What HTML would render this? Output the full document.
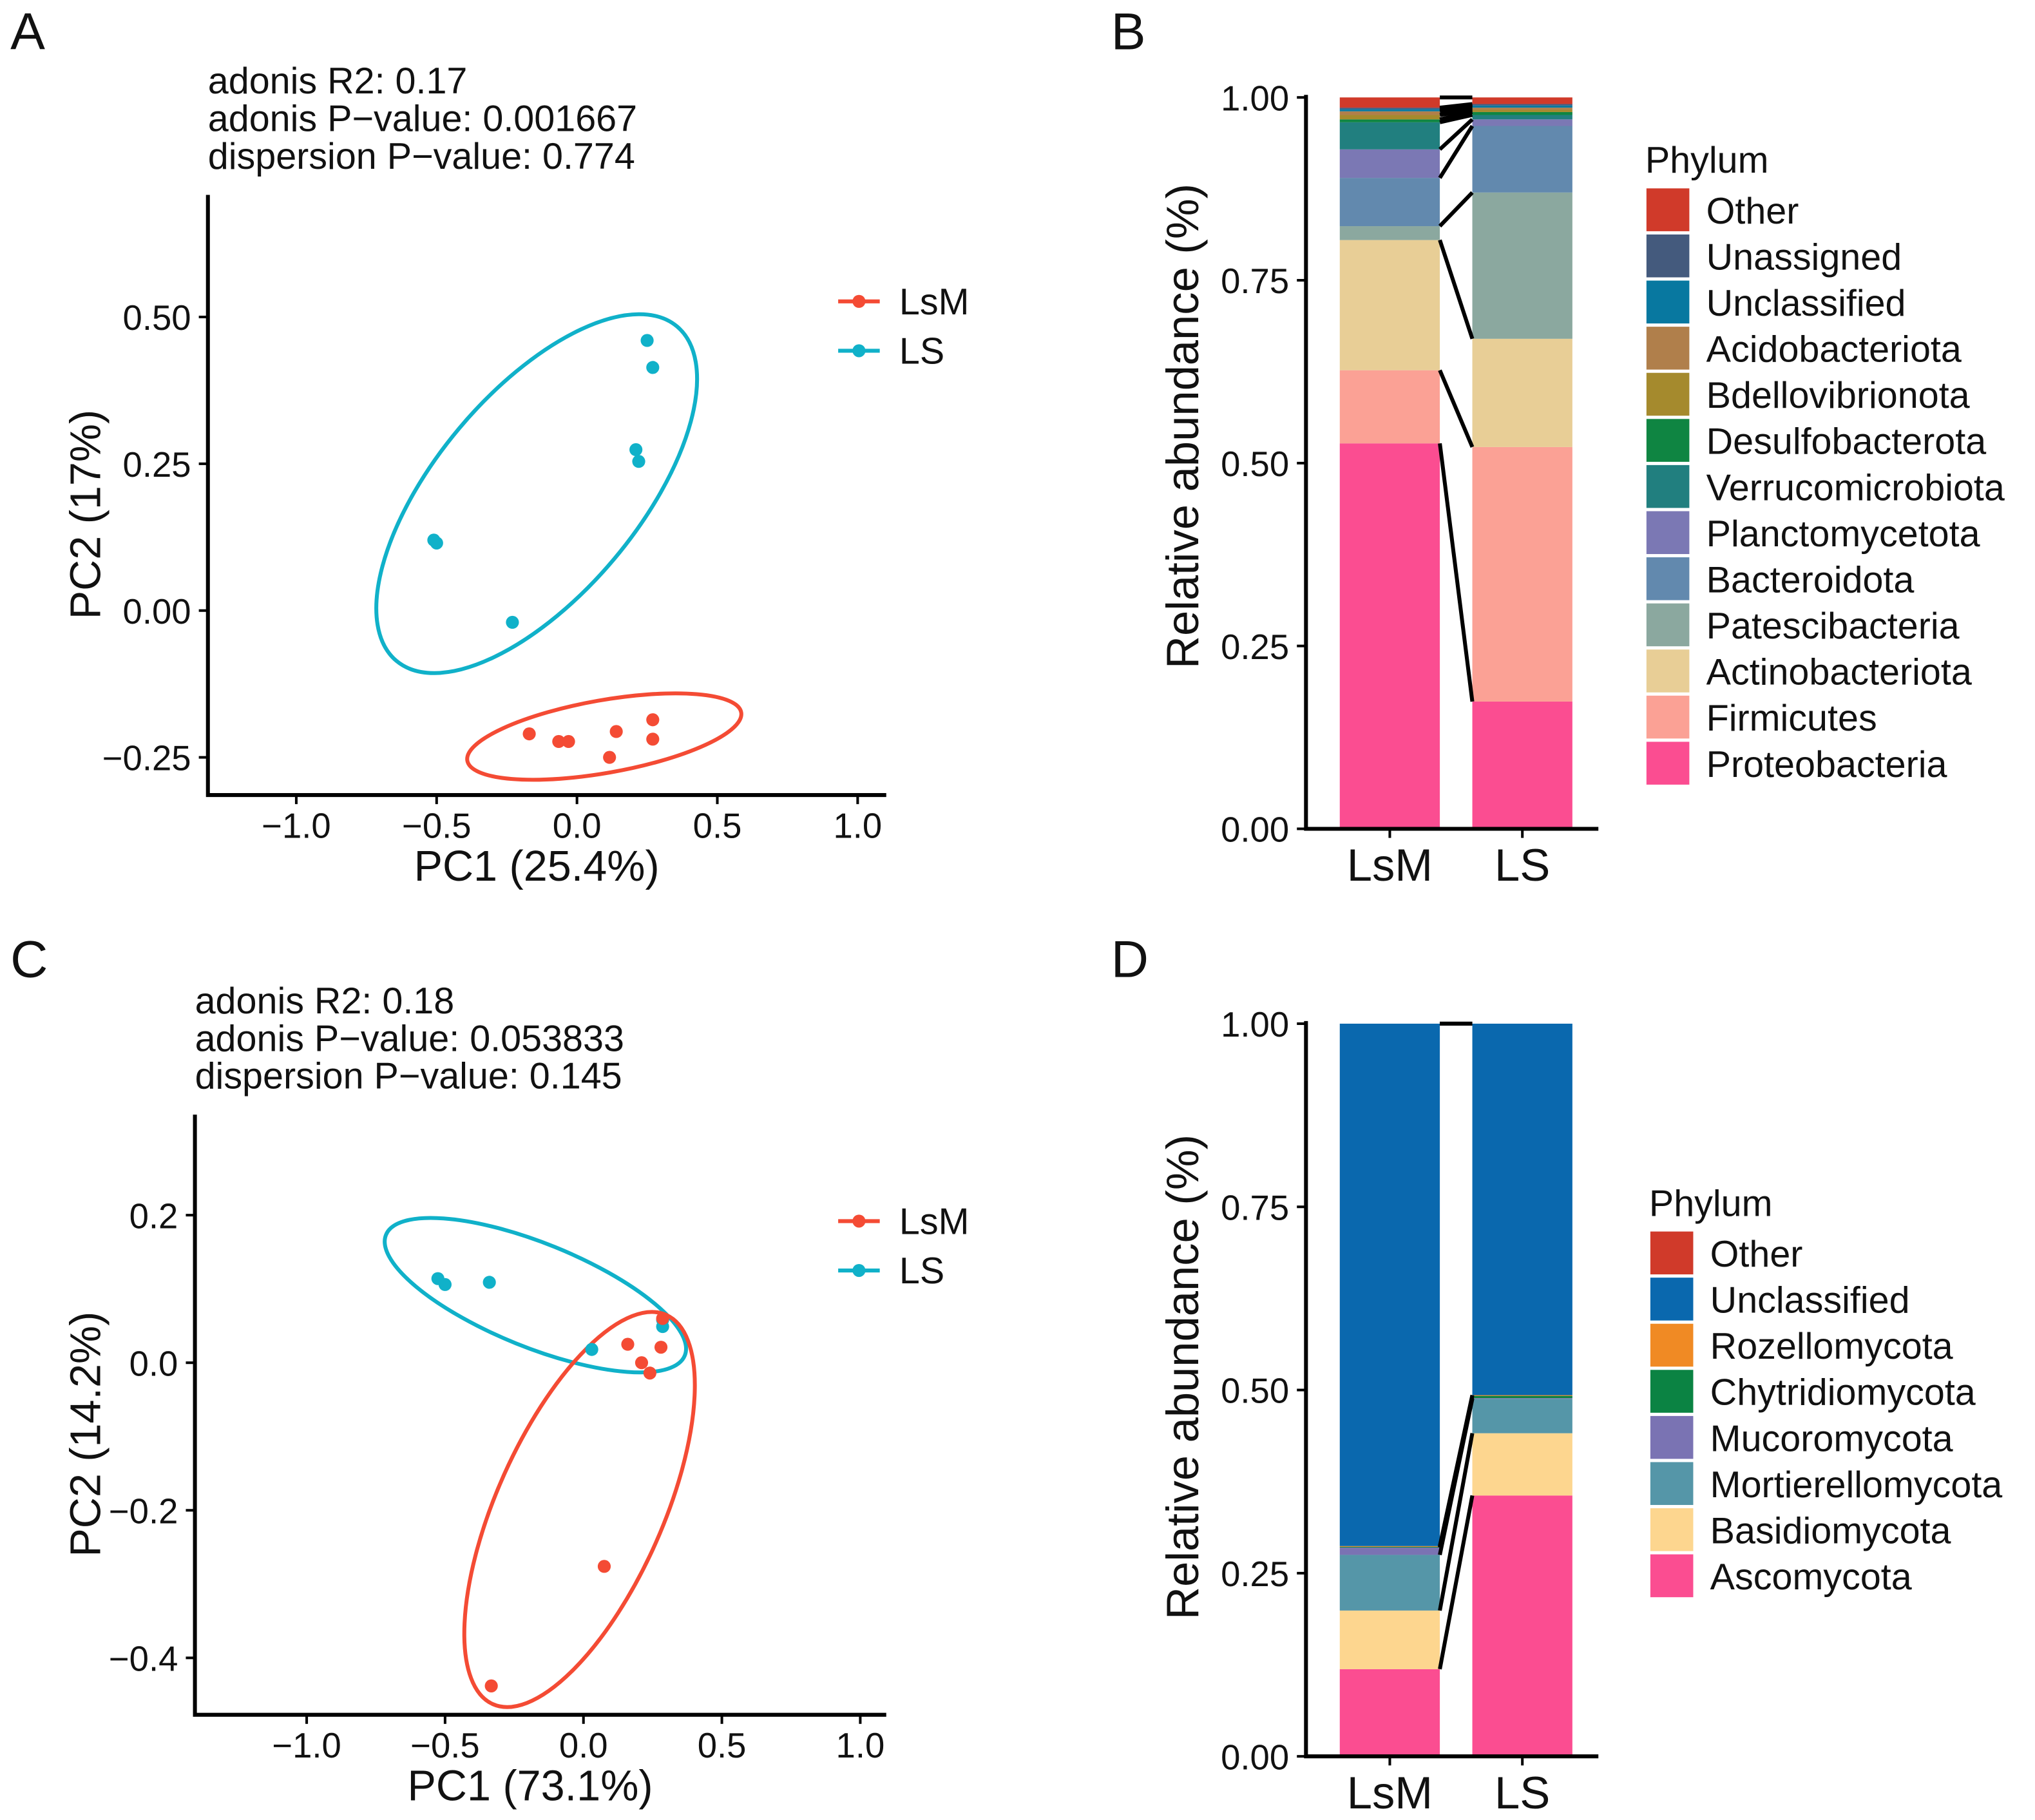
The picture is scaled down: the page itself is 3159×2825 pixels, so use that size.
<!DOCTYPE html>
<html><head><meta charset="utf-8"><style>
html,body{margin:0;padding:0;background:#fff}
svg{display:block}
text{font-family:"Liberation Sans",Arial,sans-serif;fill:#111}
</style></head><body>
<svg id="fig" width="3159" height="2825" viewBox="0 0 1566 1401" preserveAspectRatio="none" xmlns="http://www.w3.org/2000/svg"></svg>
<script>
// ---------- Data ----------
const pcaA_LS_x=[0.25,0.27,0.21,0.22,-0.51,-0.50,-0.23];
const pcaA_LS_y=[0.46,0.414,0.274,0.254,0.12,0.115,-0.02];
const pcaA_LsM_x=[-0.17,-0.065,-0.03,0.14,0.116,0.27,0.27];
const pcaA_LsM_y=[-0.21,-0.223,-0.223,-0.206,-0.25,-0.186,-0.219];
const pcaA_xticks=[-1.0,-0.5,0.0,0.5,1.0];
const pcaA_yticks=[-0.25,0.00,0.25,0.50];
const pcaC_LS_x=[-0.526,-0.5,-0.34,0.03,0.286,0.286];
const pcaC_LS_y=[0.114,0.106,0.109,0.018,0.058,0.049];
const pcaC_LsM_x=[0.16,0.21,0.24,0.28,0.286,0.075,-0.333];
const pcaC_LsM_y=[0.025,0.0,-0.014,0.021,0.06,-0.276,-0.438];
const pcaC_xticks=[-1.0,-0.5,0.0,0.5,1.0];
const pcaC_yticks=[-0.4,-0.2,0.0,0.2];
const barB_groups=["LsM","LS"];
const barB_phyla=["Proteobacteria","Firmicutes","Actinobacteriota","Patescibacteria","Bacteroidota","Planctomycetota","Verrucomicrobiota","Desulfobacterota","Bdellovibrionota","Acidobacteriota","Unclassified","Unassigned","Other"];
const barB_colors=["#fb4d91","#fba195","#e8ce96","#8ba89f","#6289ae","#7b78b4","#217f7f","#0f8542","#a58a2d","#b07f4b","#0878a0","#445a7d","#d03a2a"];
const barB_LsM=[0.527,0.10,0.178,0.019,0.066,0.039,0.037,0.004,0.006,0.005,0.003,0.002,0.014];
const barB_LS=[0.174,0.348,0.148,0.20,0.091,0.009,0.006,0.004,0.003,0.003,0.003,0.002,0.009];
const barD_phyla=["Ascomycota","Basidiomycota","Mortierellomycota","Mucoromycota","Chytridiomycota","Rozellomycota","Unclassified","Other"];
const barD_colors=["#fb4d91","#fdd68f","#5596a8","#7a73b3","#0b8343","#f08a24","#0a68ae","#d03a2a"];
const barD_LsM=[0.119,0.08,0.076,0.01,0.001,0.001,0.713,0.0];
const barD_LS=[0.356,0.085,0.047,0.001,0.003,0.001,0.507,0.0];
const bar_yticks=[0.00,0.25,0.50,0.75,1.00];

const NS="http://www.w3.org/2000/svg";
const svg=document.getElementById('fig');
function mk(tag,attrs,parent){const e=document.createElementNS(NS,tag);for(const k in attrs)e.setAttribute(k,attrs[k]);(parent||svg).appendChild(e);return e;}
function txt(s,x,y,size,anchor,parent,extra){const t=mk('text',Object.assign({x:x,y:y,'font-size':size,'text-anchor':anchor||'start'},extra||{}),parent);t.textContent=s;return t;}
const RED="#f44b34", CY="#10b1c9";

// ---------- PCA panel ----------
function pca(cfg){
  const g=mk('g',{});
  
  
  const sx=v=>cfg.x0+v*cfg.kx, sy=v=>cfg.y0-v*cfg.ky;
  const l=txt(cfg.letter,8,cfg.letterY,40,'start',g);
  
  cfg.stats.forEach((s,i)=>{const t=txt(s,cfg.statX,cfg.statY+i*29,28.5,'start',g);
    });
  const ax=mk('path',{d:`M${cfg.axL} ${cfg.axT} V${cfg.axB} H${cfg.axR}`,stroke:'#000','stroke-width':3,fill:'none'},g);
  
  cfg.xt.forEach(v=>{const x=sx(v);mk('line',{x1:x,x2:x,y1:cfg.axB,y2:cfg.axB+7,stroke:'#000','stroke-width':2},g);
    const t=txt(v.toFixed(1).replace('-','\u2212'),x,cfg.axB+33,27,'middle',g);
    });
  cfg.yt.forEach(v=>{const y=sy(v);mk('line',{x1:cfg.axL-7,x2:cfg.axL,y1:y,y2:y,stroke:'#000','stroke-width':2},g);
    const t=txt(v.toFixed(cfg.yd).replace('-','\u2212'),cfg.axL-13,y+10,27,'end',g);
    });
  const xl=txt(cfg.xlab,(cfg.axL+cfg.axR)/2-8,cfg.axB+66,33,'middle',g);
  
  const ym=(cfg.axT+cfg.axB)/2+15;
  const yl=txt(cfg.ylab,77,ym,33,'middle',g,{transform:`rotate(-90 77 ${ym})`});
  
  cfg.ell.forEach(e=>{const el=mk('ellipse',{cx:e[0],cy:e[1],rx:e[2],ry:e[3],transform:`rotate(${e[4]} ${e[0]} ${e[1]})`,fill:'none',stroke:e[5],'stroke-width':3},g);
    });
  cfg.lsx.forEach((v,i)=>{const c=mk('circle',{cx:sx(v),cy:sy(cfg.lsy[i]),r:5,fill:CY},g);
    });
  cfg.lmx.forEach((v,i)=>{const c=mk('circle',{cx:sx(v),cy:sy(cfg.lmy[i]),r:5,fill:RED},g);
    });
  [["LsM",RED,cfg.legY],["LS",CY,cfg.legY+38]].forEach(a=>{
    const lg=mk('g',{},g);
    
    mk('line',{x1:645,x2:677,y1:a[2],y2:a[2],stroke:a[1],'stroke-width':3},lg);
    mk('circle',{cx:661,cy:a[2],r:5,fill:a[1]},lg);
    txt(a[0],692,a[2]+10,28.5,'start',lg);});
}
pca({name:'panel-a-pcoa',letter:'A',letterY:38,statX:160,statY:72,stats:['adonis R2: 0.17','adonis P\u2212value: 0.001667','dispersion P\u2212value: 0.774'],
  axL:160,axT:150,axB:612,axR:682,x0:444,kx:216,y0:470,ky:452,xt:pcaA_xticks,yt:pcaA_yticks,yd:2,
  xlab:'PC1 (25.4%)',ylab:'PC2 (17%)',lsx:pcaA_LS_x,lsy:pcaA_LS_y,lmx:pcaA_LsM_x,lmy:pcaA_LsM_y,legY:232,
  ell:[[413,380,168,78,-50,CY],[465,567,107,28,-10,RED]]});
pca({name:'panel-c-pcoa',letter:'C',letterY:752,statX:150,statY:780,stats:['adonis R2: 0.18','adonis P\u2212value: 0.053833','dispersion P\u2212value: 0.145'],
  axL:150,axT:858,axB:1320,axR:682,x0:449,kx:213,y0:1049,ky:568,xt:pcaC_xticks,yt:pcaC_yticks,yd:1,
  xlab:'PC1 (73.1%)',ylab:'PC2 (14.2%)',lsx:pcaC_LS_x,lsy:pcaC_LS_y,lmx:pcaC_LsM_x,lmy:pcaC_LsM_y,legY:940,
  ell:[[412,997,124,40,22,CY],[446,1162,164,64,-66,RED]]});

// ---------- Stacked bar panel ----------
function bars(cfg){
  const g=mk('g',{});
  
  
  const y0=cfg.y0,h=cfg.h,sy=v=>y0-v*h;
  const l=txt(cfg.letter,855,cfg.letterY,40,'start',g);
  
  const bx=[1031,1133],bw=77;
  const cum=[[0],[0]];
  [cfg.a,cfg.b].forEach((arr,gi)=>{let c=0;arr.forEach((v,i)=>{
    const r=mk('rect',{x:bx[gi],y:sy(c+v),width:bw,height:v*h,fill:cfg.colors[i]},g);
    
    c+=v;cum[gi].push(c);});});
  for(let i=1;i<cum[0].length;i++){
    const ln=mk('line',{x1:bx[0]+bw,y1:sy(Math.min(cum[0][i],1)),x2:bx[1],y2:sy(Math.min(cum[1][i],1)),stroke:'#000','stroke-width':3},g);
    }
  const ax=mk('path',{d:`M1005 ${y0-h-2} V${y0} H1230`,stroke:'#000','stroke-width':3,fill:'none'},g);
  
  bar_yticks.forEach(v=>{const y=sy(v);mk('line',{x1:998,x2:1005,y1:y,y2:y,stroke:'#000','stroke-width':2},g);
    const t=txt(v.toFixed(2),992,y+10,27,'end',g);});
  barB_groups.forEach((s,i)=>{const x=bx[i]+bw/2;mk('line',{x1:x,x2:x,y1:y0,y2:y0+7,stroke:'#000','stroke-width':2},g);
    const t=txt(s,x,y0+40,35,'middle',g);});
  const ym=cfg.titleY;
  const yl=txt('Relative abundance (%)',922,ym,35,'middle',g,{transform:`rotate(-90 922 ${ym})`});
  
  const lt=txt('Phylum',cfg.lx-1,cfg.ly-12,28.5,'start',g);
  
  const n=cfg.phyla.length;
  for(let k=0;k<n;k++){const i=n-1-k;const y=cfg.ly+k*35.5;
    const lg=mk('g',{},g);
    
    mk('rect',{x:cfg.lx,y:y,width:33,height:33,fill:cfg.colors[i]},lg);
    txt(cfg.phyla[i],cfg.lx+46,y+27,28.5,'start',lg);}
}
bars({name:'panel-b-bacteria',letter:'B',letterY:38,y0:638,h:563,titleY:328,a:barB_LsM,b:barB_LS,phyla:barB_phyla,colors:barB_colors,lx:1267,ly:145});
bars({name:'panel-d-fungi',letter:'D',letterY:752,y0:1352,h:564,titleY:1060,a:barD_LsM,b:barD_LS,phyla:barD_phyla,colors:barD_colors,lx:1270,ly:948});
</script>
</body></html>
